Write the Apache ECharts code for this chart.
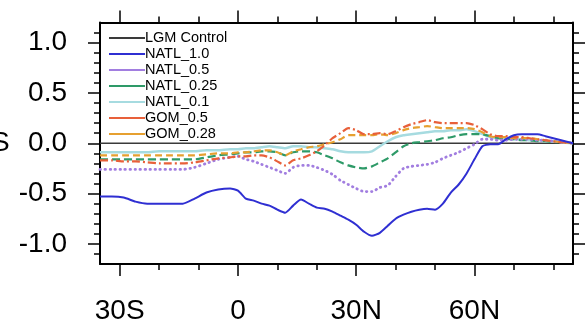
<!DOCTYPE html>
<html>
<head>
<meta charset="utf-8">
<script src="https://cdn.jsdelivr.net/npm/echarts@6/dist/echarts.min.js"></script>
<style>html,body{margin:0;padding:0;background:#fff}#c{width:587px;height:325px}</style>
</head>
<body>
<div id="c"></div>
<script>
var lats = [-35,-32,-29,-26,-23,-20,-17,-14,-11,-8,-5,-2,0,2,4,6,8,10,12,14,16,18,20,22,24,26,28,30,32,34,36,38,40,42,44,46,48,50,52,54,56,58,60,62,64,66,68,70,72,74,76,78,80,82,85];
var lgmControl = lats.map(function(){return 0;});
var natl10 = [-0.53,-0.53,-0.54,-0.58,-0.60,-0.60,-0.60,-0.60,-0.55,-0.49,-0.46,-0.45,
  -0.47,-0.55,-0.57,-0.60,-0.62,-0.66,-0.69,-0.62,-0.56,-0.60,
  -0.64,-0.65,-0.68,-0.72,-0.76,-0.81,-0.88,-0.92,-0.89,-0.82,
  -0.75,-0.71,-0.68,-0.66,-0.65,-0.66,-0.60,-0.49,-0.41,-0.30,
  -0.16,-0.03,-0.01,-0.01,0.04,0.08,0.09,0.09,0.09,0.07,
  0.05,0.03,0.0];
var natl05 = [-0.26,-0.26,-0.26,-0.26,-0.26,-0.26,-0.26,-0.26,-0.24,-0.20,-0.16,-0.14,
  -0.13,-0.16,-0.18,-0.21,-0.24,-0.27,-0.30,-0.24,-0.22,-0.22,
  -0.24,-0.27,-0.31,-0.37,-0.41,-0.45,-0.48,-0.48,-0.44,-0.42,
  -0.33,-0.25,-0.23,-0.22,-0.21,-0.19,-0.15,-0.12,-0.09,-0.05,
  -0.01,0.04,0.04,0.03,0.03,0.04,0.04,0.04,0.03,0.03,
  0.02,0.01,0.0];
var natl025 = [-0.16,-0.16,-0.16,-0.16,-0.16,-0.16,-0.16,-0.16,-0.16,-0.14,-0.12,-0.11,
  -0.10,-0.09,-0.09,-0.08,-0.08,-0.09,-0.12,-0.09,-0.08,-0.08,
  -0.09,-0.12,-0.15,-0.19,-0.22,-0.24,-0.25,-0.23,-0.19,-0.15,
  -0.09,-0.03,0.00,0.01,0.02,0.03,0.05,0.06,0.08,0.09,
  0.09,0.09,0.07,0.05,0.04,0.04,0.03,0.03,0.02,0.02,
  0.01,0.01,0.0];
var natl01 = [-0.09,-0.09,-0.09,-0.09,-0.09,-0.08,-0.08,-0.08,-0.08,-0.07,-0.07,-0.06,
  -0.06,-0.05,-0.05,-0.04,-0.03,-0.04,-0.05,-0.03,-0.03,-0.04,
  -0.04,-0.05,-0.06,-0.08,-0.09,-0.09,-0.09,-0.08,-0.03,0.02,
  0.06,0.08,0.09,0.10,0.11,0.12,0.12,0.13,0.13,0.14,
  0.12,0.09,0.06,0.05,0.05,0.04,0.04,0.03,0.03,0.02,
  0.02,0.01,0.0];
var gom05 = [-0.17,-0.17,-0.18,-0.18,-0.19,-0.20,-0.20,-0.20,-0.19,-0.17,-0.15,-0.14,
  -0.13,-0.13,-0.12,-0.12,-0.14,-0.18,-0.22,-0.17,-0.15,-0.12,
  -0.08,-0.02,0.05,0.10,0.15,0.13,0.09,0.09,0.10,0.09,
  0.12,0.16,0.19,0.21,0.23,0.21,0.20,0.20,0.20,0.20,
  0.18,0.14,0.09,0.07,0.07,0.06,0.06,0.05,0.04,0.03,
  0.02,0.01,0.0];
var gom028 = [-0.12,-0.12,-0.12,-0.12,-0.12,-0.12,-0.12,-0.12,-0.12,-0.11,-0.10,-0.10,
  -0.09,-0.09,-0.08,-0.07,-0.07,-0.09,-0.12,-0.08,-0.06,-0.04,
  -0.03,-0.01,0.01,0.04,0.08,0.08,0.08,0.08,0.09,0.08,
  0.10,0.13,0.15,0.16,0.17,0.16,0.15,0.15,0.15,0.15,
  0.14,0.11,0.07,0.06,0.06,0.05,0.05,0.05,0.04,0.03,
  0.02,0.01,0.0];

var xMajor = [-30, 0, 30, 60];
var xMinor = [-20, -10, 10, 20, 40, 50, 70, 80];
var yMajor = [-1, -0.5, 0, 0.5, 1];
var yMinor = [-1.1, -0.9, -0.8, -0.7, -0.6, -0.4, -0.3, -0.2, -0.1, 0.1, 0.2, 0.3, 0.4, 0.6, 0.7, 0.8, 0.9, 1.1];

function pairs(arr){ return lats.map(function(l,i){ return [l, arr[i]]; }); }
function latFmt(v){ if (v === 0) return '0'; return v < 0 ? (-v) + 'S' : v + 'N'; }

var FONT = 'Liberation Sans';
var line = {color:'#000', width:2};

function xAx(pos, ticks, len, labels, showLine){
  return {type:'value', position:pos, min:-35, max:85,
    axisLine:{show:showLine, onZero:false, lineStyle:line},
    axisTick:{show:true, inside:false, length:len, customValues:ticks, lineStyle:{color:'#000', width:1.5}},
    axisLabel:{show:labels, customValues:ticks, formatter:latFmt, fontSize:28, fontFamily:FONT, color:'#000', margin:33},
    splitLine:{show:false}};
}
function yAx(pos, ticks, len, labels, showLine){
  return {type:'value', position:pos, min:-1.2, max:1.2,
    axisLine:{show:showLine, onZero:false, lineStyle:line},
    axisTick:{show:true, inside:false, length:len, customValues:ticks, lineStyle:{color:'#000', width:1.5}},
    axisLabel:{show:labels, customValues:ticks, formatter:function(v){return v.toFixed(1);}, fontSize:28, fontFamily:FONT, color:'#000', margin:33},
    splitLine:{show:false}};
}

function ser(name, arr, color, type, width, cap){
  return {name:name, type:'line', data:pairs(arr), symbol:'none', smooth:0.2,
    lineStyle:{color:color, width:width, type:type, cap:cap || 'butt'}, itemStyle:{color:color}, z:3};
}

var chart = echarts.init(document.getElementById('c'), null, {renderer:'canvas'});
chart.setOption({
  animation:false,
  backgroundColor:'#fff',
  grid:{left:100, right:14, top:22.5, bottom:58.5, containLabel:false},
  xAxis:[
    xAx('bottom', xMajor, 12, true, true),
    xAx('bottom', xMinor, 6, false, false),
    xAx('top', xMajor, 12, false, true),
    xAx('top', xMinor, 6, false, false)
  ],
  yAxis:[
    yAx('left', yMajor, 12, true, true),
    yAx('left', yMinor, 6, false, false),
    yAx('right', yMajor, 12, false, true),
    yAx('right', yMinor, 6, false, false)
  ],
  legend:{
    orient:'vertical', left:104, top:25.5, itemWidth:36, itemHeight:14, itemGap:1,
    icon:'path://M0,6 L36,6 L36,8.2 L0,8.2 Z',
    textStyle:{fontSize:14.5, fontFamily:FONT, color:'#000', padding:[0,0,0,-5]},
    data:['LGM Control','NATL_1.0','NATL_0.5','NATL_0.25','NATL_0.1','GOM_0.5','GOM_0.28']
  },
  graphic:[{type:'text', left:-9, top:129, style:{text:'S', fontSize:28, fontFamily:FONT, fill:'#000'}}],
  series:[
    ser('LGM Control', lgmControl, '#3a3a3a', 'solid', 1.5),
    ser('NATL_0.1', natl01, '#a6dbe0', 'solid', 2.5),
    ser('NATL_0.25', natl025, '#2e9a68', [8,4], 2.2),
    ser('NATL_0.5', natl05, '#a27ee0', [0.5,4.5], 2.8, 'round'),
    ser('GOM_0.28', gom028, '#e6a030', [7,4], 2.2),
    ser('GOM_0.5', gom05, '#e8603a', [8,3,2,3], 2.2),
    ser('NATL_1.0', natl10, '#2f2fd2', 'solid', 2)
  ]
});
</script>
</body>
</html>
